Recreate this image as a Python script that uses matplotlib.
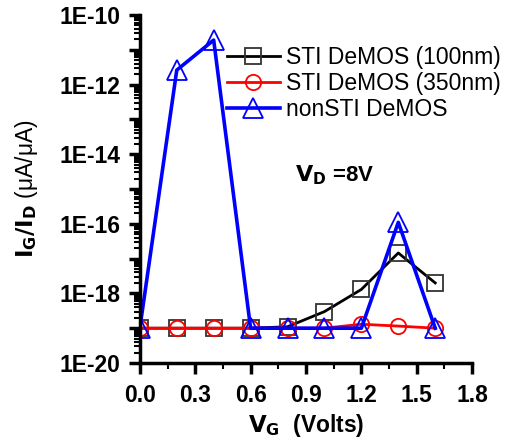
import matplotlib.pyplot as plt
from matplotlib.ticker import LogLocator, FixedLocator, NullFormatter, MultipleLocator

plt.rcParams['font.family'] = ['Liberation Sans', 'DejaVu Sans']

vg = [0.0, 0.2, 0.4, 0.6, 0.8, 1.0, 1.2, 1.4, 1.6]
sti_100 = [1e-19, 1e-19, 1e-19, 1e-19, 1.1e-19, 3e-19, 1.3e-18, 1.45e-17, 2e-18]
sti_350 = [1e-19, 1e-19, 1e-19, 1e-19, 1e-19, 1e-19, 1.3e-19, 1.15e-19, 1e-19]
nonsti = [1e-19, 2.6e-12, 1.9e-11, 1e-19, 1e-19, 1e-19, 1e-19, 1.1e-16, 1e-19]
exps = list(range(-20, -9))

fig = plt.figure(figsize=(5.16, 4.4), dpi=100)
ax = fig.add_axes([0.271, 0.175, 0.644, 0.791])

ax.plot(vg, sti_100, color='black', lw=2, marker='s', ms=11, mfc='none',
        mec='#333333', mew=1.3, label='STI DeMOS (100nm)')
ax.plot(vg, sti_350, color='red', lw=2, marker='o', ms=11, mfc='none',
        mec='red', mew=1.3, label='STI DeMOS (350nm)')
ax.plot(vg, nonsti, color='blue', lw=2.6, marker='^', ms=15, mfc='none',
        mec='blue', mew=1.3, label='nonSTI DeMOS')

ax.set_yscale('log')
ax.set_ylim(1e-20, 1e-10)
ax.set_xlim(0, 1.8)
ax.set_xticks([0.0, 0.3, 0.6, 0.9, 1.2, 1.5, 1.8])
ax.set_xticklabels(['0.0', '0.3', '0.6', '0.9', '1.2', '1.5', '1.8'])
ax.xaxis.set_minor_locator(MultipleLocator(0.15))
ax.yaxis.set_major_locator(FixedLocator([10.0**e for e in exps]))
ax.set_yticklabels(['1E%d' % e if e % 2 == 0 else '' for e in exps])
ax.yaxis.set_minor_locator(LogLocator(base=10, subs=range(2, 10), numticks=20))
ax.yaxis.set_minor_formatter(NullFormatter())

for s in ['top', 'right']:
    ax.spines[s].set_visible(False)
for s in ['left', 'bottom']:
    ax.spines[s].set_linewidth(2.5)
ax.tick_params(which='major', direction='out', length=8, width=2.5,
               labelsize=16.5)
ax.tick_params(which='minor', direction='out', length=4, width=1.5)
for t in ax.get_xticklabels() + ax.get_yticklabels():
    t.set_fontweight('bold')
ax.tick_params(axis='x', pad=7)
ax.tick_params(axis='y', pad=6)

ax.set_xlabel('$\\mathbf{V_G}$  (Volts)', fontsize=16.5, fontweight='bold',
              labelpad=4)
ax.set_ylabel('$\\mathbf{I_G/I_D}$ (μA/μA)', fontsize=16.5, labelpad=14)

ax.text(0.84, 10**-14.6, '$\\mathbf{V_D}$ =8V', fontsize=16, fontweight='bold',
        va='center')

ax.legend(loc='upper left', bbox_to_anchor=(0.262, 0.912), frameon=False,
          fontsize=16.5, handlelength=2.3, handletextpad=0.3, labelspacing=0.15,
          borderaxespad=0, borderpad=0)

fig.savefig('out.png', dpi=100)
